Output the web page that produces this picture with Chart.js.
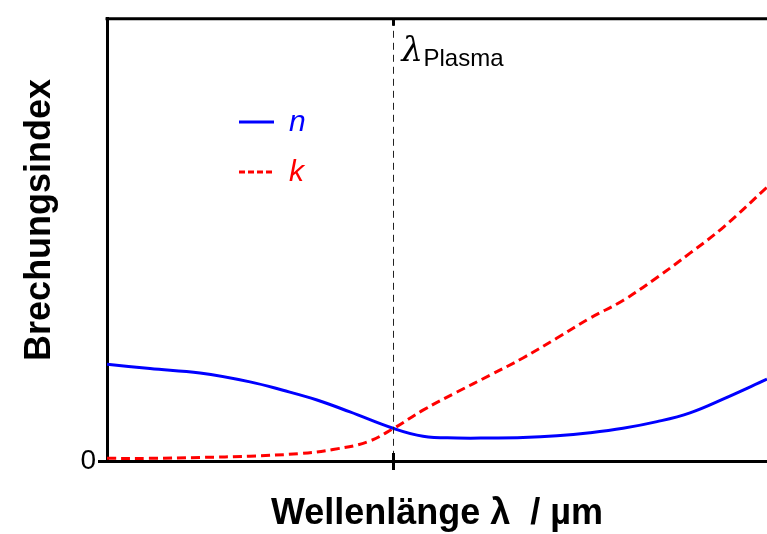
<!DOCTYPE html>
<html>
<head>
<meta charset="utf-8">
<script src="https://cdn.jsdelivr.net/npm/chart.js@4"></script>
<style>
  html, body { margin: 0; padding: 0; background: #fff; }
  canvas { display: block; }
</style>
</head>
<body>
<canvas id="chart" width="767" height="534"></canvas>
<script>
// --- DATA (arbitrary units) ---
const wavelengths = [0, 43, 93, 143, 176, 210, 243, 286, 316, 350, 383, 416, 450, 483, 516, 550, 583, 616, 660];
const nValues = [2.19, 2.09, 1.99, 1.79, 1.60, 1.38, 1.11, 0.74, 0.56, 0.52, 0.52, 0.53, 0.57, 0.64, 0.74, 0.89, 1.09, 1.40, 1.85];
const kWavelengths = [0, 43, 93, 143, 193, 226, 260, 286, 316, 350, 383, 416, 450, 483, 516, 550, 583, 616, 660];
const kValues = [0.06, 0.06, 0.08, 0.11, 0.17, 0.26, 0.43, 0.73, 1.15, 1.56, 1.94, 2.33, 2.78, 3.23, 3.63, 4.15, 4.70, 5.28, 6.19];
const plasmaWavelength = 286;
const yTicks = [0];
const seriesLabels = ['n', 'k'];

const sans = 'Liberation Sans, Arial, Helvetica, sans-serif';

// extra drawing: top frame, plasma marker, legend
const extras = {
  id: 'extras',
  afterDatasetsDraw(chart) {
    const { ctx, chartArea: a, scales: { x } } = chart;
    const px = Math.round(x.getPixelForValue(plasmaWavelength)) + 0.5;
    ctx.save();
    // top frame line
    ctx.strokeStyle = '#000';
    ctx.lineWidth = 3;
    ctx.beginPath();
    ctx.moveTo(a.left - 1.5, a.top);
    ctx.lineTo(a.right, a.top);
    ctx.stroke();
    // dashed plasma line
    ctx.lineWidth = 1;
    ctx.setLineDash([7, 5]);
    ctx.strokeStyle = '#222';
    ctx.beginPath();
    ctx.moveTo(px, a.top);
    ctx.lineTo(px, a.bottom);
    ctx.stroke();
    ctx.setLineDash([]);
    // inner parts of plasma tick
    ctx.lineWidth = 3;
    ctx.strokeStyle = '#000';
    ctx.beginPath();
    ctx.moveTo(px, a.bottom - 8);
    ctx.lineTo(px, a.bottom);
    ctx.moveTo(px, a.top);
    ctx.lineTo(px, a.top + 7);
    ctx.stroke();
    // lambda_Plasma label
    ctx.fillStyle = '#000';
    ctx.textBaseline = 'alphabetic';
    ctx.font = 'italic 34px DejaVu Serif, serif';
    ctx.fillText('\u03bb', px + 8, 61);
    ctx.font = '24px ' + sans;
    ctx.fillText('Plasma', px + 30, 66);
    // legend
    const ds = chart.data.datasets;
    const rows = [122, 172];
    ds.forEach((d, i) => {
      ctx.strokeStyle = d.borderColor;
      ctx.lineWidth = 3;
      ctx.setLineDash(i === 0 ? [] : [6, 3]);
      ctx.beginPath();
      ctx.moveTo(239, rows[i]);
      ctx.lineTo(274, rows[i]);
      ctx.stroke();
      ctx.setLineDash([]);
      ctx.fillStyle = d.borderColor;
      ctx.font = 'italic 30px ' + sans;
      ctx.textBaseline = 'middle';
      ctx.fillText(d.label, 289, rows[i] + 1);
    });
    ctx.restore();
  }
};

new Chart(document.getElementById('chart'), {
  type: 'line',
  data: {
    datasets: [
      {
        label: seriesLabels[0],
        data: wavelengths.map((w, i) => ({ x: w, y: nValues[i] })),
        borderColor: '#0000ff',
        borderWidth: 3,
        pointRadius: 0,
        tension: 0.4
      },
      {
        label: seriesLabels[1],
        data: kWavelengths.map((w, i) => ({ x: w, y: kValues[i] })),
        borderColor: '#ff0000',
        borderWidth: 3,
        borderDash: [9, 5],
        pointRadius: 0,
        tension: 0.4
      }
    ]
  },
  options: {
    responsive: false,
    animation: false,
    layout: { padding: { top: 18, right: 0, left: 0, bottom: 0 } },
    plugins: {
      legend: { display: false },
      tooltip: { enabled: false }
    },
    scales: {
      x: {
        type: 'linear',
        min: 0,
        max: 660,
        afterBuildTicks: s => { s.ticks = [{ value: plasmaWavelength }]; },
        afterFit: s => { s.height = 73; },
        ticks: { display: false },
        grid: { drawOnChartArea: false, drawTicks: true, tickLength: 9, lineWidth: 3, color: '#000' },
        border: { display: true, width: 3, color: '#000' },
        title: {
          display: true,
          text: 'Wellenlänge \u03bb  / µm',
          color: '#000',
          font: { family: sans, size: 36, weight: 'bold', lineHeight: 1.1 },
          padding: { top: 0, bottom: 0 }
        }
      },
      y: {
        min: 0,
        max: 10,
        afterBuildTicks: s => { s.ticks = yTicks.map(v => ({ value: v })); },
        afterFit: s => { s.width = 107; },
        ticks: { color: '#000', font: { family: sans, size: 28 }, padding: 2 },
        grid: { drawOnChartArea: false, drawTicks: true, tickLength: 9, lineWidth: 3, color: '#000' },
        border: { display: true, width: 3, color: '#000' },
        title: {
          display: true,
          text: '    Brechungsindex',
          color: '#000',
          font: { family: sans, size: 36, weight: 'bold' },
          padding: { top: 18, bottom: 0 }
        }
      }
    }
  },
  plugins: [extras]
});
</script>
</body>
</html>
